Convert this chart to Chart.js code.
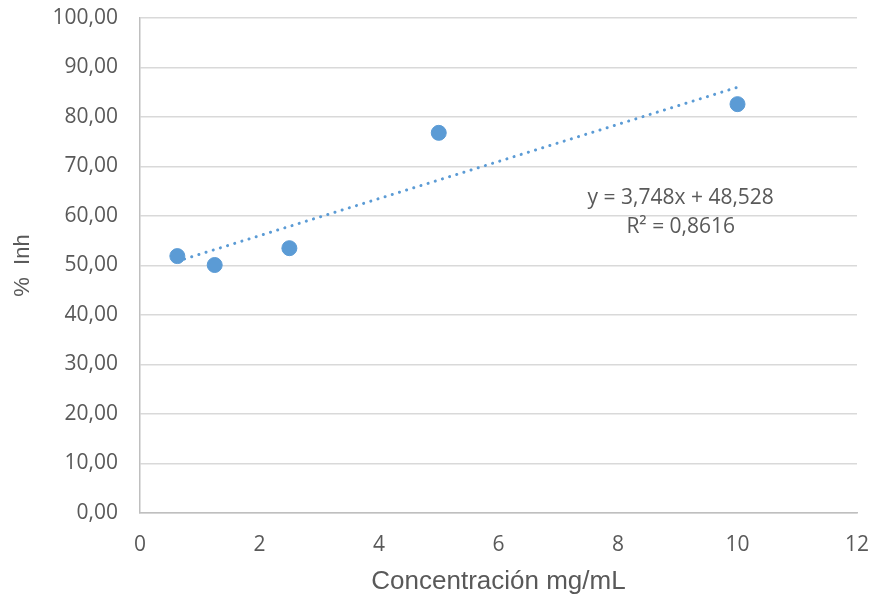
<!DOCTYPE html>
<html>
<head>
<meta charset="utf-8">
<script src="https://cdn.jsdelivr.net/npm/chart.js@4"></script>
<style>
  html, body { margin: 0; padding: 0; background: #ffffff; }
  #wrap { width: 873px; height: 600px; position: relative; }
</style>
</head>
<body>
<div id="wrap"><canvas id="c" width="873" height="600"></canvas></div>
<script>
// Data
const concentrations = [0.625, 1.25, 2.5, 5, 10];
const inhibition = [51.9, 50.1, 53.5, 76.8, 82.6];
const trendSlope = 3.748;
const trendIntercept = 48.528;
const trendRange = [0.625, 10];
const equationLines = ['y = 3,748x + 48,528', 'R² = 0,8616'];
const xTitle = 'Concentración mg/mL';
const yTitle = '%  Inh';

const blue = '#5B9BD5';
const textGrey = '#595959';

const trendData = trendRange.map(x => ({ x: x, y: trendSlope * x + trendIntercept }));
const pointData = concentrations.map((x, i) => ({ x: x, y: inhibition[i] }));

const equationPlugin = {
  id: 'equation',
  afterDatasetsDraw(chart) {
    const { ctx, scales } = chart;
    const cx = scales.x.getPixelForValue(9.05);
    const y1 = scales.y.getPixelForValue(63.6);
    const y2 = scales.y.getPixelForValue(57.8);
    ctx.save();
    ctx.fillStyle = textGrey;
    ctx.font = '21px "Open Sans"';
    ctx.textAlign = 'center';
    ctx.textBaseline = 'middle';
    ctx.fillText(equationLines[0], cx, y1);
    ctx.fillText(equationLines[1], cx, y2);
    ctx.restore();
  }
};

new Chart(document.getElementById('c'), {
  type: 'scatter',
  data: {
    datasets: [
      {
        type: 'line',
        data: trendData,
        borderColor: blue,
        borderWidth: 3,
        borderDash: [0.1, 7.4],
        borderCapStyle: 'round',
        pointRadius: 0,
        fill: false,
        order: 2
      },
      {
        data: pointData,
        backgroundColor: blue,
        borderColor: blue,
        pointRadius: 7.5,
        pointHoverRadius: 7.5,
        order: 1
      }
    ]
  },
  options: {
    responsive: false,
    animation: false,
    events: [],
    layout: { padding: { left: 0, top: 18, right: 16, bottom: 0 } },
    plugins: { legend: { display: false }, tooltip: { enabled: false } },
    scales: {
      x: {
        type: 'linear',
        min: 0, max: 12,
        ticks: {
          stepSize: 2,
          padding: 19,
          color: textGrey,
          font: { family: '"Open Sans"', size: 21 }
        },
        grid: { display: false, drawTicks: false },
        border: { display: true, color: '#BFBFBF', width: 1.5 },
        title: {
          display: true,
          text: xTitle,
          color: textGrey,
          font: { family: '"Liberation Sans"', size: 26 },
          padding: { top: 4, bottom: 3 }
        },
        afterFit(scale) {
          scale.height = 87;
          scale.paddingLeft = 0;
          scale.paddingRight = 0;
        }
      },
      y: {
        min: 0, max: 100,
        ticks: {
          stepSize: 10,
          padding: 22,
          color: textGrey,
          font: { family: '"Open Sans"', size: 21 },
          callback: v => v.toFixed(2).replace('.', ',')
        },
        grid: { color: '#D9D9D9', lineWidth: 1.5, drawTicks: false },
        border: { display: true, color: '#BFBFBF', width: 1.5 },
        title: {
          display: true,
          text: yTitle,
          color: textGrey,
          font: { family: '"Liberation Sans"', size: 22 },
          padding: { top: 10, bottom: 0 }
        },
        afterFit(scale) {
          scale.width = 140;
          scale.paddingTop = 0;
          scale.paddingBottom = 0;
        }
      }
    }
  },
  plugins: [equationPlugin]
});
</script>
</body>
</html>
